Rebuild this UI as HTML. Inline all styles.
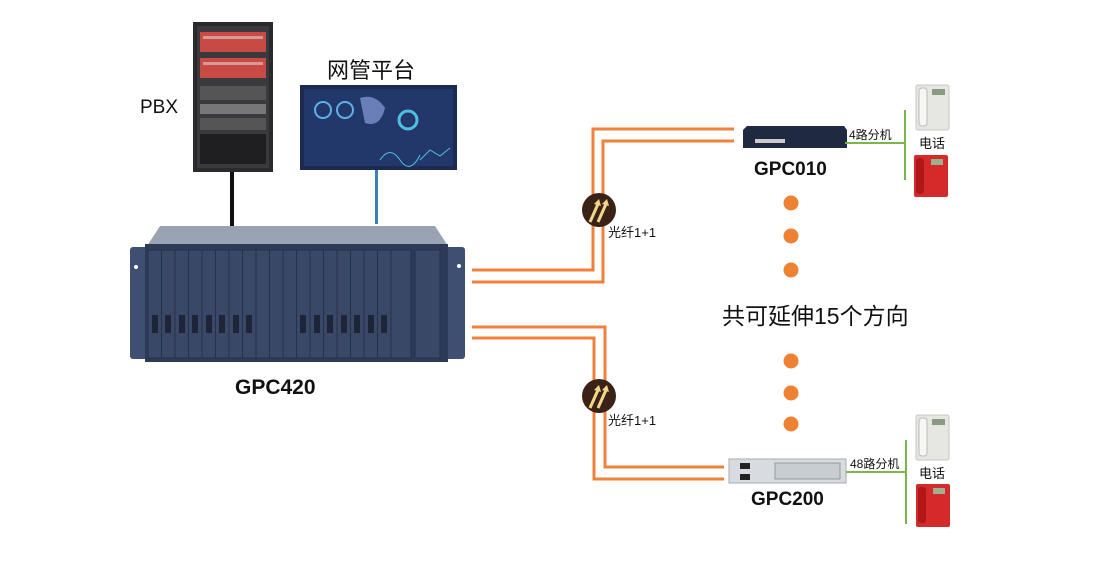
<!DOCTYPE html>
<html><head><meta charset="utf-8"><style>
body{margin:0;background:#fff;}
svg{display:block;}
text{font-family:"Liberation Sans","Noto Sans CJK SC",sans-serif;}
</style></head><body>
<svg width="1101" height="576" viewBox="0 0 1101 576" xmlns="http://www.w3.org/2000/svg">
<!-- PBX rack -->
<rect x="193" y="22" width="80" height="150" fill="#2a2a2d"/>
<rect x="197" y="26" width="72" height="142" fill="#3a3a3e"/>
<rect x="200" y="32" width="66" height="20" fill="#c84a44"/>
<rect x="200" y="58" width="66" height="20" fill="#c84a44"/>
<rect x="200" y="86" width="66" height="14" fill="#555"/>
<rect x="200" y="104" width="66" height="10" fill="#777"/>
<rect x="200" y="118" width="66" height="12" fill="#555"/>
<rect x="200" y="134" width="66" height="30" fill="#1f1f22"/>
<rect x="203" y="36" width="60" height="3" fill="#e8e8e8" opacity=".5"/>
<rect x="203" y="62" width="60" height="3" fill="#e8e8e8" opacity=".5"/>
<text x="140" y="113" font-size="19" fill="#111">PBX</text>
<!-- monitor -->
<rect x="300" y="85" width="157" height="85" fill="#1b2a52"/>
<rect x="304" y="89" width="149" height="77" fill="#22386b"/>
<circle cx="323" cy="110" r="8" fill="none" stroke="#5fb0e8" stroke-width="2"/>
<circle cx="345" cy="110" r="8" fill="none" stroke="#5fb0e8" stroke-width="2"/>
<path d="M360 98 q15 -5 25 10 q-5 20 -20 15z" fill="#6a7fb8"/>
<circle cx="408" cy="120" r="9" fill="none" stroke="#4fc0e0" stroke-width="3"/>
<path d="M380 160 q10 -15 20 0 t20 -5" stroke="#4fc0e0" fill="none"/>
<path d="M420 160 l10 -10 l10 6 l10 -8" stroke="#4fc0e0" fill="none"/>
<text x="327" y="78" font-size="22" fill="#111">网管平台</text>
<!-- cables -->
<rect x="230" y="172" width="4" height="54" fill="#111"/>
<rect x="375" y="170" width="3" height="54" fill="#3d7fb8"/>
<!-- chassis -->
<path d="M160 226 h275 l13 20 h-301z" fill="#9aa3b2"/>
<rect x="130" y="247" width="335" height="112" rx="3" fill="#3e4f72"/>
<rect x="145" y="244" width="303" height="118" fill="#2d3a58"/>
<g fill="#3a4868" stroke="#25304a" stroke-width="1">
<rect x="148" y="250" width="13.5" height="108"/><rect x="161.5" y="250" width="13.5" height="108"/><rect x="175" y="250" width="13.5" height="108"/><rect x="188.5" y="250" width="13.5" height="108"/><rect x="202" y="250" width="13.5" height="108"/><rect x="215.5" y="250" width="13.5" height="108"/><rect x="229" y="250" width="13.5" height="108"/><rect x="242.5" y="250" width="13.5" height="108"/><rect x="256" y="250" width="13.5" height="108"/><rect x="269.5" y="250" width="13.5" height="108"/><rect x="283" y="250" width="13.5" height="108"/><rect x="296.5" y="250" width="13.5" height="108"/><rect x="310" y="250" width="13.5" height="108"/><rect x="323.5" y="250" width="13.5" height="108"/><rect x="337" y="250" width="13.5" height="108"/><rect x="350.5" y="250" width="13.5" height="108"/><rect x="364" y="250" width="13.5" height="108"/><rect x="377.5" y="250" width="13.5" height="108"/><rect x="391" y="250" width="20" height="108"/><rect x="415" y="250" width="25" height="108"/>
</g>
<g fill="#1e2538">
<rect x="152" y="315" width="6" height="18"/><rect x="165" y="315" width="6" height="18"/><rect x="179" y="315" width="6" height="18"/><rect x="192" y="315" width="6" height="18"/><rect x="206" y="315" width="6" height="18"/><rect x="219" y="315" width="6" height="18"/><rect x="233" y="315" width="6" height="18"/><rect x="246" y="315" width="6" height="18"/><rect x="300" y="315" width="6" height="18"/><rect x="314" y="315" width="6" height="18"/><rect x="327" y="315" width="6" height="18"/><rect x="341" y="315" width="6" height="18"/><rect x="354" y="315" width="6" height="18"/><rect x="368" y="315" width="6" height="18"/><rect x="381" y="315" width="6" height="18"/>
</g>
<circle cx="136" cy="267" r="2" fill="#fff"/><circle cx="459" cy="266" r="2" fill="#fff"/>
<text x="235" y="394" font-size="21" font-weight="bold" fill="#111">GPC420</text>
<!-- fibers -->
<g fill="none" stroke="#f0803a" stroke-width="3">
<polyline points="472,270 593,270 593,129 734,129"/>
<polyline points="472,282 603,282 603,141 734,141"/>
<polyline points="472,327 605,327 605,467 724,467"/>
<polyline points="472,338 594,338 594,479 724,479"/>
</g>
<g>
<circle cx="599" cy="210" r="17" fill="#3a2316"/>
<path d="M590 222 l8 -18 M598 222 l8 -18" stroke="#f2d68a" stroke-width="3"/>
<path d="M594 204 l5 -5 l2 7z M602 204 l5 -5 l2 7z" fill="#f2d68a"/>
<circle cx="599" cy="396" r="17" fill="#3a2316"/>
<path d="M590 408 l8 -18 M598 408 l8 -18" stroke="#f2d68a" stroke-width="3"/>
<path d="M594 390 l5 -5 l2 7z M602 390 l5 -5 l2 7z" fill="#f2d68a"/>
</g>
<text x="608" y="237" font-size="13" fill="#111">光纤1+1</text>
<text x="608" y="425" font-size="13" fill="#111">光纤1+1</text>
<!-- dots -->
<g fill="#ee8233">
<circle cx="791" cy="203" r="7.5"/><circle cx="791" cy="236" r="7.5"/><circle cx="791" cy="270" r="7.5"/>
<circle cx="791" cy="361" r="7.5"/><circle cx="791" cy="393" r="7.5"/><circle cx="791" cy="424" r="7.5"/>
</g>
<text x="722" y="324" font-size="23" fill="#111">共可延伸15个方向</text>
<!-- GPC010 -->
<path d="M747 126 h97 l3 4 v18 h-104 v-18z" fill="#1f2a40"/>
<rect x="755" y="139" width="30" height="4" fill="#ccc"/>
<text x="754" y="175" font-size="19" font-weight="bold" fill="#111">GPC010</text>
<!-- GPC200 -->
<rect x="729" y="459" width="117" height="24" fill="#d8dce0" stroke="#aaa"/>
<rect x="740" y="463" width="10" height="6" fill="#222"/><rect x="740" y="474" width="10" height="6" fill="#222"/>
<rect x="775" y="463" width="65" height="16" fill="#c8cdd2" stroke="#999"/>
<text x="751" y="505" font-size="19" font-weight="bold" fill="#111">GPC200</text>
<!-- green lines -->
<g stroke="#7ab648" stroke-width="2" fill="none">
<line x1="845" y1="143" x2="905" y2="143"/><line x1="905" y1="110" x2="905" y2="180"/>
<line x1="846" y1="472" x2="906" y2="472"/><line x1="906" y1="440" x2="906" y2="524"/>
</g>
<text x="849" y="139" font-size="12" fill="#111">4路分机</text>
<text x="850" y="468" font-size="12" fill="#111">48路分机</text>
<text x="919" y="148" font-size="13" fill="#111">电话</text>
<text x="919" y="478" font-size="13" fill="#111">电话</text>
<!-- phones -->
<g>
<rect x="916" y="85" width="33" height="45" rx="2" fill="#e6e6e2" stroke="#c8c8c2"/>
<rect x="919" y="88" width="8" height="38" rx="3" fill="#f6f6f2" stroke="#bbb"/>
<rect x="932" y="89" width="13" height="6" fill="#8a9a80"/>
<rect x="914" y="155" width="34" height="42" rx="2" fill="#d42a2a"/>
<rect x="916" y="158" width="8" height="36" rx="3" fill="#b01818"/>
<rect x="931" y="159" width="12" height="6" fill="#9fb090"/>
<rect x="916" y="415" width="33" height="45" rx="2" fill="#e6e6e2" stroke="#c8c8c2"/>
<rect x="919" y="418" width="8" height="38" rx="3" fill="#f6f6f2" stroke="#bbb"/>
<rect x="932" y="419" width="13" height="6" fill="#8a9a80"/>
<rect x="916" y="484" width="34" height="43" rx="2" fill="#d42a2a"/>
<rect x="918" y="487" width="8" height="36" rx="3" fill="#b01818"/>
<rect x="933" y="488" width="12" height="6" fill="#9fb090"/>
</g>
</svg>
</body></html>
